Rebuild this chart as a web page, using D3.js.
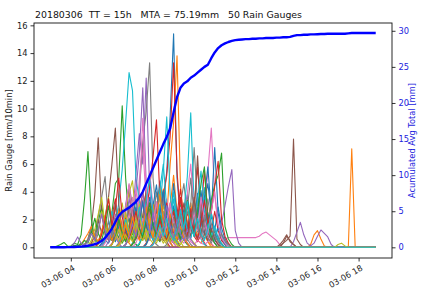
<!DOCTYPE html>
<html><head><meta charset="utf-8">
<script src="https://cdn.jsdelivr.net/npm/d3@7"></script>
<style>
html,body{margin:0;padding:0;background:#fff;}
svg{display:block;font-family:"DejaVu Sans",sans-serif;}
</style></head>
<body>
<svg id="c" width="425" height="293"></svg>
<script>
// ---------------- data ----------------
const titleText = "20180306  TT = 15h   MTA = 75.19mm   50 Rain Gauges";
const startTime = [2018, 2, 6, 3, 0];       // 2018-03-06 03:00, 10-min steps
const nSteps = 96;
const xTickHours = [4, 6, 8, 10, 12, 14, 16, 18];
const leftTicks = [0, 2, 4, 6, 8, 10, 12, 14, 16];
const rightTicks = [0, 5, 10, 15, 20, 25, 30];

// accumulated average total [mm] (blue curve)
const cumulativeAvg = [0,0,0,0,0.01,0.02,0.03,0.05,0.07,0.1,0.15,0.22,0.3,0.42,0.6,0.9,1.3,1.9,2.6,3.5,
 4.4,4.9,5.2,5.5,5.9,6.3,6.9,7.7,8.8,9.9,11.0,12.1,13.2,14.3,15.3,16.5,18.7,20.8,22.1,22.7,
 23.0,23.5,23.8,24.2,24.6,25.0,25.3,26.2,27.0,27.6,28.0,28.25,28.45,28.6,28.7,28.75,28.8,28.85,28.85,28.9,
 28.9,28.95,28.95,29.0,29.0,29.0,29.05,29.05,29.1,29.1,29.15,29.3,29.4,29.4,29.45,29.45,29.5,29.5,29.52,29.55,
 29.55,29.6,29.6,29.6,29.6,29.6,29.6,29.65,29.7,29.7,29.7,29.7,29.7,29.7,29.7,29.7];

// rain per gauge [mm/10min]; each gauge: segments [startIndex, values...], other steps are 0
const gaugeSegments = [
 [[14,0,0.2,0.5,0.3,0.8,1.2,0.6,0.4,1.5,2.1,1.0,0.7,1.8,3.2,2.4,1.1,0.9,2.6,4.8,3.0,5.5,9.5,15.4,5.0,2.0,1.4,3.1,2.2,1.0,0.6,1.9,3.4,1.2,0.8,0.5,0.2,0]],
 [[12,0.3,0.8,0.4,1.2,2.0,0.9,0.5,1.6,2.8,1.3,0.7,0.4,1.1,2.5,3.6,1.8,0.9,2.2,1.4,0.8,3.0,4.2,2.1,6.0,9.0,13.8,4.5,1.6,0.9,2.4,1.2,0.5,0.3,1.0,0.4,0.2,0]],
 [[8,0.1,0.3,0.2,0.5,1.2,0.6,1.8,3.0,1.5,0.8,2.5,4.6,5.0,10.2,5.0,1.8,0.9,2.2,1.4,0.6,1.0,2.8,1.6,0.7,0.4,1.3,2.0,0.8,0.3,0.6,1.1,0.5,0.2,0]],
 [[16,0.4,1.0,2.2,3.5,1.6,0.8,1.9,2.7,1.2,0.6,2.4,4.0,2.8,1.5,3.3,2.0,1.1,3.8,5.2,8.0,13.3,5.5,2.1,1.0,2.5,1.7,0.8,0.4,0.9,0.3,0]],
 [[15,0.2,0.6,1.1,0.5,1.4,2.3,1.0,3.1,4.4,2.0,5.3,8.2,6.0,12.2,4.1,1.9,3.0,1.3,0.7,2.1,1.5,0.8,0.4,1.2,0.6,0.3,0]],
 [[10,0.2,0.6,1.5,3.8,7.9,2.4,0.9,0.5,1.8,3.0,1.2,0.7,2.6,4.2,1.9,0.8,2.0,3.4,1.5,0.6,1.2,2.7,1.4,0.5,0.9,0.3,0]],
 [[18,0.3,0.9,1.6,0.7,1.3,2.4,3.6,1.8,4.9,7.4,3.2,1.5,2.6,1.2,0.8,2.0,3.5,1.7,0.9,2.3,1.4,0.7,1.6,2.8,1.3,0.6,1.5,3.0,5.4,8.6,3.8,1.5,0.8,0.4,0]],
 [[13,0.3,1.0,2.5,1.4,0.6,1.7,3.2,2.0,0.9,2.8,4.5,3.0,1.6,4.0,7.6,9.8,13.3,5.0,2.2,1.0,2.6,1.3,0.7,1.9,1.0,0.5,1.2,0.6,0.2,0]],
 [[12,0.2,0.5,1.2,2.6,1.4,0.8,2.0,1.1,0.6,1.5,2.8,3.9,4.8,2.2,1.0,0.5,1.3,2.4,1.1,0.6,1.8,3.0,1.4,0.7,0.3,0.8,0.4,0]],
 [[16,0.5,1.2,2.6,1.5,3.2,5.6,9.0,12.6,11.3,5.0,3.4,1.6,0.9,2.1,1.2,0.6,1.4,2.5,1.1,0.5,0.9,0.3,0]],
 [[20,0.2,0.6,1.3,0.7,1.8,2.9,1.4,0.8,2.2,3.6,1.9,1.0,2.7,4.1,2.3,1.2,3.0,1.8,0.9,2.4,3.8,2.0,1.1,2.9,1.5,3.3,4.6,2.4,7.2,2.5,0.9,0.4,0.2,0]],
 [[18,0.2,0.7,1.6,0.8,2.3,1.2,0.5,1.4,2.8,1.5,3.9,2.0,1.0,2.6,4.4,2.2,1.1,3.0,5.2,2.6,1.3,0.6,1.7,3.2,1.6,0.8,2.0,1.0,0.4,0]],
 [[6,0.1,0.3,0.2,0.9,3.5,6.9,2.0,0.6,0.3,1.0,2.2,1.1,0.5,1.3,0.7,0.3,0.8,1.5,0.6,0.2,0]],
 [[20,0.3,1.0,2.1,1.0,0.5,1.6,3.0,1.5,2.5,4.3,6.5,9.2,3.6,1.4,2.6,1.2,0.6,2.0,3.4,1.6,0.8,2.2,3.0,5.8,2.4,1.1,0.5,1.3,0.6,0.2,0]],
 [[17,0.4,1.1,2.4,1.3,0.6,1.7,3.5,2.1,4.0,6.8,11.5,4.6,2.0,1.0,2.7,1.4,0.7,1.9,3.2,1.5,0.8,0.4,1.0,0.3,0]],
 [[12,0.3,0.9,2.0,1.0,2.2,3.6,6.0,8.6,3.1,1.2,0.6,1.5,2.9,1.4,0.7,2.3,4.1,2.0,1.0,2.4,3.8,1.7,0.8,0.4,1.2,0.5,0]],
 [[20,0.2,0.8,1.8,0.9,2.6,4.2,2.0,1.0,2.8,5.5,3.0,1.4,0.7,1.6,0.8,0.3,0.6,1.2,0.5,0.3,0.9,0.4,0.2,0.5,0.3,0.2,0.4,0.6,0.3,0.2,0.5,0.6,0.7,0.7,0.7,0.7,0.7,0.7,0.7,0.7,0.7,0.8,1.0,1.1,0.9,0.7,0.5,0.2,0]],
 [[22,0.2,0.7,1.5,0.8,2.0,3.4,1.6,0.8,2.2,4.0,2.0,1.0,2.5,1.3,0.6,1.8,3.1,4.6,2.4,3.0,7.2,3.0,1.3,0.6,1.5,0.7,0.3,0]],
 [[14,0.2,0.9,2.1,3.6,1.7,0.8,1.9,3.2,1.5,0.7,2.5,1.2,0.6,1.4,2.9,1.4,0.7,1.6,0.8,0.3,0.7,1.3,0.6,0.2,0]],
 [[24,0.3,1.1,2.4,1.2,0.6,1.8,3.1,1.5,4.2,6.0,2.8,1.3,3.5,1.8,0.9,2.6,5.1,9.7,3.0,1.4,2.6,4.3,2.0,1.0,0.5,1.6,0.8,0.3,0]],
 [[15,0.3,0.8,1.9,0.9,0.4,1.5,2.7,1.3,0.6,2.0,3.5,1.7,0.9,2.4,1.2,3.0,4.5,2.2,1.1,2.8,1.4,0.7,2.0,1.0,0.5,1.3,2.6,1.3,0.6,1.8,3.6,5.8,2.5,1.2,2.9,1.4,0.6,0.2,0]],
 [[22,0.2,0.6,1.4,0.7,1.9,1.0,0.5,1.6,3.1,1.5,0.7,2.0,1.0,0.4,0],[86,0,0,7.1,0]],
 [[26,0.2,0.8,1.6,0.8,2.2,1.1,0.5,1.4,2.6,1.3,0.6,1.7,3.0,1.5,0.7,2.0,3.6,1.8,0.9,2.3,1.2,3.4,4.5,5.2,6.8,1.5,0.6,0.2,0]],
 [[28,0.3,1.0,2.3,1.1,0.5,1.6,3.2,1.6,0.8,2.4,4.2,2.0,1.0,2.8,1.4,3.7,2.4,5.6,2.4,1.1,2.6,1.2,0.5,0.2,0]],
 [[30,0.2,0.7,1.5,0.8,2.1,1.0,0.5,1.4,2.6,1.3,0.6,1.8,3.3,1.6,0.8,2.2,1.1,0.5,1.3,0.6,1.7,3.0,4.4,5.6,1.2,0.3,0]],
 [[18,0.2,0.9,2.0,1.0,0.4,1.3,2.7,1.3,0.6,1.8,3.5,1.7,0.8,2.3,1.1,0.5,1.4,0.7,0.3,0],[66,0,0.1,0.3,0.5,0.8,7.8,0.6,0.2,0]],
 [[16,0.3,1.0,2.1,1.0,0.5,1.4,2.8,4.6,2.3,1.1,3.8,9.3,4.2,1.8,0.9,2.4,1.2,0.6,1.6,0.8,0.3,0]],
 [[10,0.2,0.6,1.4,0.7,2.2,3.6,5.1,1.8,0.8,2.1,1.0,0.5,1.6,3.0,1.5,0.7,1.9,0.9,0.4,1.1,0.5,0.2,0]],
 [[11,0.1,0.5,1.3,2.4,3.6,1.6,0.8,1.9,0.9,0.4,1.2,2.5,1.2,0.6,1.7,3.1,1.5,0.7,2.0,1.0,0.5,1.3,0.6,0.2,0]],
 [[20,0.3,0.9,2.0,1.0,0.5,1.5,2.9,1.4,3.4,5.0,2.5,1.2,2.8,5.5,9.4,3.8,1.6,0.8,2.1,1.0,0.5,1.3,2.6,1.3,0.6,0.2,0]],
 [[22,0.2,0.6,1.4,0.7,1.9,3.3,1.6,0.8,2.4,1.2,0.6,1.7,3.0,1.5,4.6,2.3,1.1,2.7,1.3,0.7,1.8,3.9,1.9,0.9,2.5,1.2,0.6,1.4,0.7,0.2,0]],
 [[8,0,0.2,0.6,1.0,1.5,0.8,0.4,1.1,2.3,1.1,0.5,1.4,2.6,1.3,0.6,0.3,0],[75,0,0.2,0.9,1.2,0.6,0.1,0]],
 [[1,0,0.1,0.2,0.35,0.1,0.05,0.15,0.1,0.2,0.5,0.3,1.0,2.1,1.0,0.5,1.5,3.0,1.4,0.7,2.0,1.0,0.4,1.2,0.6,0.2,0]],
 [[14,0.3,0.9,2.0,3.5,1.6,2.8,5.0,2.2,1.0,0.5,1.4,2.6,1.3,0.6,1.7,3.2,1.6,0.8,2.1,1.0,0.4,0]],
 [[6,0,0.3,0.75,0.3,0.1,0.4,1.0,0.5,1.3,2.4,1.2,0.6,1.5,0.7,0.3,0],[70,0,0.4,1.1,1.8,0.9,0.3,0.1,0.3,0.8,1.25,1.0,0.75,0.2,0]],
 [[24,0.2,0.8,1.7,0.8,2.4,1.2,0.6,1.5,3.0,1.5,0.7,2.0,1.0,0.5,1.6,3.2,1.6,0.8,2.6,6.6,2.2,1.0,0.5,1.3,0.6,0.2,0],[67,0,0.3,0.8,0.5,0.2,0]],
 [[25,0.3,1.0,2.1,1.0,0.5,1.6,3.3,1.6,0.8,2.3,1.1,0.5,1.5,2.9,1.4,3.8,6.0,2.6,1.2,0.6,1.7,0.8,0.3,0]],
 [[28,0.2,0.7,1.5,0.7,1.9,3.4,1.7,0.8,2.2,1.1,0.5,1.4,2.8,5.0,2.3,1.1,3.0,1.5,0.7,0.3,0.9,0.4,0]],
 [[18,0.2,0.6,1.3,0.6,1.8,0.9,0.4,1.2,2.3,1.1,0.5,1.5,0.7,0.3,0.9,1.8,0.9,0.4,1.0,0.5,0.2,0.6,1.2,0.6,0.3,0]],
 [[26,0.3,1.0,2.2,1.1,0.5,1.5,3.1,1.5,0.7,2.0,4.0,2.0,1.0,2.5,1.2,0.6,1.7,3.4,5.5,2.6,1.3,0.6,1.5,0.7,0.3,0]],
 [[28,0.2,0.8,1.8,0.9,2.4,4.0,2.0,1.0,2.6,1.3,0.6,1.7,3.3,1.6,0.8,2.2,4.1,2.0,1.0,2.3,1.1,0.5,0.2,0]],
 [[20,0.2,0.7,1.6,0.8,2.2,1.1,0.5,1.4,2.9,1.4,0.7,2.0,3.8,1.9,0.9,2.4,1.2,0.6,1.5,0.7,0.3,0]],
 [[24,0.2,0.6,1.4,0.7,1.9,3.2,1.6,0.8,2.3,1.1,0.5,1.4,2.7,1.3,0.6,1.8,3.4,1.7,0.8,2.5,4.6,5.8,1.7,0.8,0.3,0]],
 [[30,0.3,0.9,2.0,1.0,0.5,1.4,2.6,1.3,3.6,1.8,0.9,2.4,1.2,0.6,1.8,3.4,1.7,2.5,4.4,6.2,2.0,0.8,0.3,0]],
 [[22,0.2,0.8,1.7,0.8,2.2,4.0,2.0,1.0,2.5,1.2,0.6,1.6,3.0,1.5,0.7,2.0,1.0,0.5,1.3,0.6,0.2,0]],
 [[30,0.2,0.7,1.6,0.8,2.0,1.0,0.5,1.4,2.7,1.3,0.6,1.9,3.6,1.8,0.9,2.2,1.1,0.5,1.2,0.6,0.2,0],[66,0,0.2,0.5,0.9,0.4,0.2,0]],
 [[30,0.2,0.6,1.4,0.7,1.8,3.2,1.6,0.8,2.1,1.0,0.5,1.3,2.5,1.2,3.6,2.0,1.0,2.6,4.0,1.6,0.7,0.3,0]],
 [[34,0.2,0.8,1.7,0.8,2.3,1.1,0.5,1.5,2.9,1.4,0.7,1.9,3.5,1.7,0.8,0.4,1.0,0.5,0.2,0]],
 [[20,0.1,0.4,0.9,0.4,1.1,2.0,1.0,0.5,1.3,0.6,0.3,0.8,1.6,0.8,0.4,1.0,0.5,0.2,0],[83,0,0.2,0.3,0.1,0]],
 [[30,0.2,0.7,1.6,0.8,2.1,1.0,0.5,1.4,2.7,1.3,3.3,1.6,0.8,2.1,1.0,0.5,1.3,2.4,1.2,0.6,0.2,0]]
];

// ---------------- chart ----------------
const svg = d3.select("#c");
const L = 34, R = 392, T = 23, B = 258;
const t0 = new Date(...startTime);
const times = d3.range(nSteps).map(i => new Date(t0.getTime() + i * 600000));
const span = times[nSteps - 1] - times[0];
const x = d3.scaleTime()
  .domain([new Date(+times[0] - span * 0.05), new Date(+times[nSteps - 1] + span * 0.05)])
  .range([L, R]);
const yL = d3.scaleLinear().domain([-0.77, 16.17]).range([B, T]);
const yR = d3.scaleLinear().domain([-1.48, 31.08]).range([B, T]);

svg.append("defs").append("clipPath").attr("id", "clip")
  .append("rect").attr("x", L).attr("y", T).attr("width", R - L).attr("height", B - T);

const colors = d3.schemeCategory10;
const gaugeSeries = gaugeSegments.map(segs => {
  const s = new Array(nSteps).fill(0);
  segs.forEach(seg => { seg.slice(1).forEach((v, k) => { s[seg[0] + k] = v; }); });
  return s;
});

const lineL = d3.line().x((d, i) => x(times[i])).y(d => yL(d));
const g = svg.append("g").attr("clip-path", "url(#clip)");
gaugeSeries.forEach((s, k) => {
  g.append("path").attr("d", lineL(s)).attr("fill", "none")
    .attr("stroke", colors[k % 10]).attr("stroke-width", 1.1).attr("stroke-linejoin", "round");
});
const lineR = d3.line().x((d, i) => x(times[i])).y(d => yR(d));
g.append("path").attr("d", lineR(cumulativeAvg)).attr("fill", "none")
  .attr("stroke", "#0000ff").attr("stroke-width", 2.4).attr("stroke-linejoin", "round");

// axes
const fmt = d3.timeFormat("%m-%d %H");
const xTicks = xTickHours.map(h => new Date(2018, 2, 6, h, 0));
const xAxis = svg.append("g").attr("transform", `translate(0,${B})`)
  .call(d3.axisBottom(x).tickValues(xTicks).tickFormat(fmt).tickSize(3.5).tickSizeOuter(0));
xAxis.selectAll("text").attr("font-size", 8.3).attr("fill", "#222")
  .attr("text-anchor", "end").attr("dx", "0").attr("dy", "0")
  .attr("transform", "translate(1,6) rotate(-30)");
const yAxisL = svg.append("g").attr("transform", `translate(${L},0)`)
  .call(d3.axisLeft(yL).tickValues(leftTicks).tickSize(3.5).tickSizeOuter(0));
yAxisL.selectAll("text").attr("font-size", 8.3).attr("fill", "#222");
const yAxisR = svg.append("g").attr("transform", `translate(${R},0)`)
  .call(d3.axisRight(yR).tickValues(rightTicks).tickSize(3.5).tickSizeOuter(0));
yAxisR.selectAll("text").attr("font-size", 8.3).attr("fill", "#2222dd");
[xAxis, yAxisL, yAxisR].forEach(a => {
  a.select(".domain").remove();
  a.selectAll("line").attr("stroke", "#000").attr("stroke-width", 0.8);
  a.attr("font-family", null);
});
// frame
svg.append("rect").attr("x", L).attr("y", T).attr("width", R - L).attr("height", B - T)
  .attr("fill", "none").attr("stroke", "#111").attr("stroke-width", 0.9);

// labels
svg.append("text").attr("x", L + 1).attr("y", 18).attr("font-size", 9.4).attr("fill", "#111")
  .style("white-space", "pre").attr("xml:space", "preserve").text(titleText);
svg.append("text").attr("transform", `translate(12,${(T + B) / 2}) rotate(-90)`)
  .attr("text-anchor", "middle").attr("font-size", 8.3).attr("fill", "#222").text("Rain Gauge [mm/10min]");
svg.append("text").attr("transform", `translate(415,${(T + B) / 2}) rotate(-90)`)
  .attr("text-anchor", "middle").attr("font-size", 8.3).attr("fill", "#2222dd").text("Acumulated Avg Total [mm]");
</script>
</body></html>
